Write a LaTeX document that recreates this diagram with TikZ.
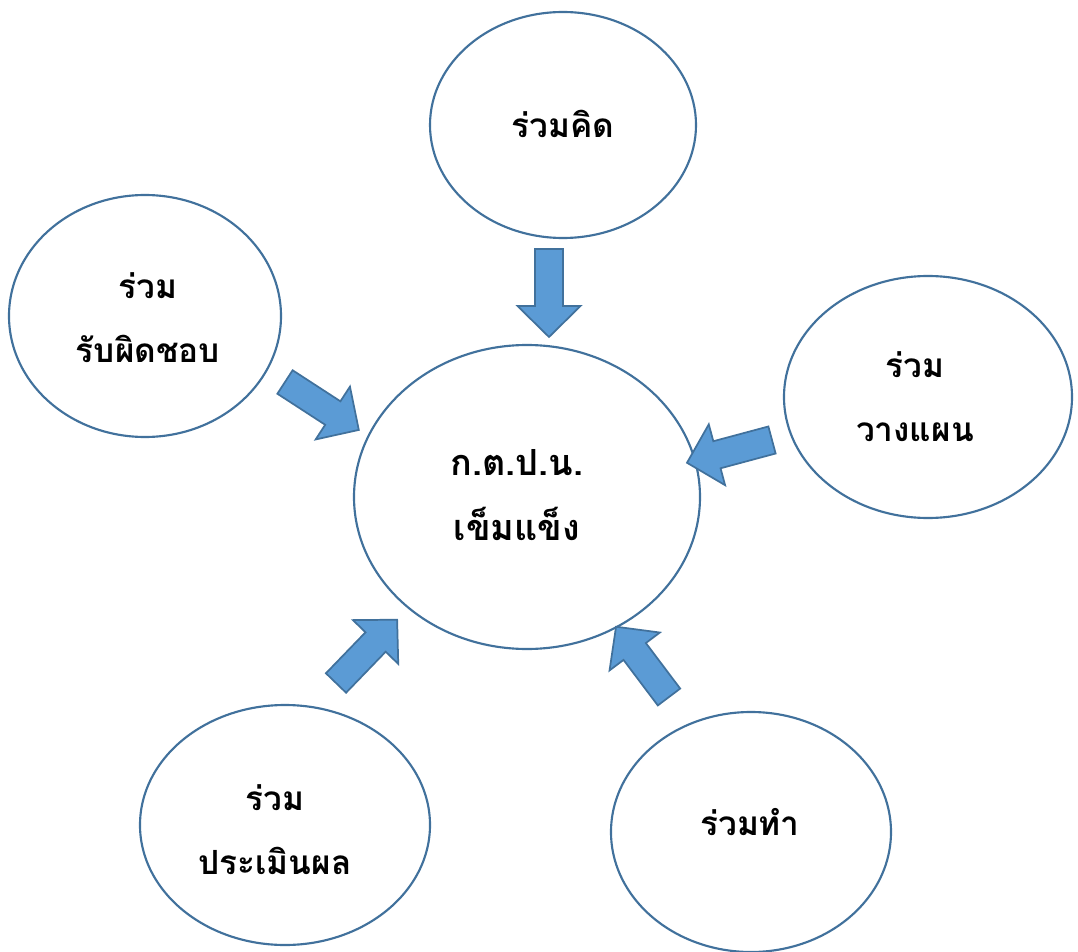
\documentclass[tikz,border=0pt]{standalone}
\usepackage{fontspec}
\newfontfamily\thaifont[Script=Thai]{Loma}
\definecolor{arrowfill}{HTML}{5B9BD5}
\definecolor{arrowline}{HTML}{41719C}
\definecolor{ringline}{HTML}{41719C}
\tikzset{
  ring/.style={draw=ringline, line width=1.6pt, fill=white},
  lbl/.style={font=\thaifont\bfseries\fontsize{25}{48}\selectfont, align=center, text=black},
  biglbl/.style={font=\thaifont\bfseries\fontsize{27}{49}\selectfont, align=center, text=black},
  blockarrow/.pic={
    \draw[fill=arrowfill, draw=arrowline, line width=1.3pt, line join=miter]
      (0,-14) -- (57,-14) -- (57,-31.5) -- (88,0) -- (57,31.5) -- (57,14) -- (0,14) -- cycle;
  }
}
\begin{document}
\begin{tikzpicture}[x=0.75pt,y=-0.75pt]
\useasboundingbox (0,0) rectangle (1078,952);
% circles
\draw[ring] (563,125) ellipse [x radius=133, y radius=113];
\draw[ring] (145,316) ellipse [x radius=136, y radius=121];
\draw[ring] (928,397) ellipse [x radius=144, y radius=121];
\draw[ring] (527,497) ellipse [x radius=173, y radius=152];
\draw[ring] (285,825) ellipse [x radius=145, y radius=120];
\draw[ring] (751,832) ellipse [x radius=140, y radius=120];
% labels
\node[lbl] (think) at (563,124) {ร่วมคิด};
\node[lbl] (resp) at (148,318) {ร่วม\\รับผิดชอบ};
\node[lbl] (plan) at (915,397) {ร่วม\\วางแผน};
\node[biglbl] (core) at (517,495) {ก.ต.ป.น.\\เข็มแข็ง};
\node[lbl] (eval) at (275,830) {ร่วม\\ประเมินผล};
\node[lbl] (act) at (750,822) {ร่วมทำ};
% block arrows
\pic[rotate=-90] at (549,249) {blockarrow};
\pic[rotate=-33] at (285,382) {blockarrow};
\pic[rotate=-165] at (772,440) {blockarrow};
\pic[rotate=46] at (336,683) {blockarrow};
\pic[rotate=127] at (669,697) {blockarrow};
\end{tikzpicture}
\end{document}
